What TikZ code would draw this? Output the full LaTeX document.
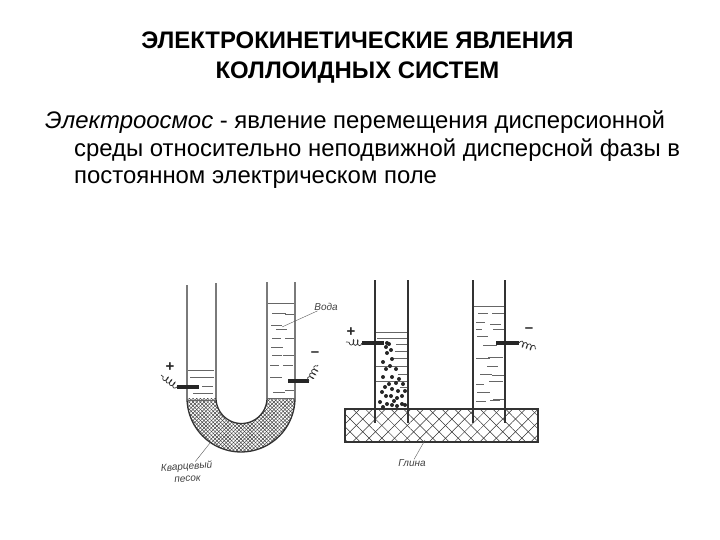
\documentclass[tikz,border=0pt]{standalone}
\usepackage{fontspec}
\setmainfont{Liberation Sans}
\usetikzlibrary{patterns.meta}
\usetikzlibrary{decorations.pathmorphing}
\tikzset{
	wall/.style={line width=1.3pt,draw=black!80},
	surface/.style={line width=.5pt,draw=black!60},
	electrode/.style={line width=3.4pt,draw=black!85},
	coilwire/.style={line width=.7pt,draw=black!80,decorate,decoration={coil,aspect=.45,segment length=4.2pt,amplitude=2.8pt}},
	leader/.style={line width=.4pt,draw=black!65},
	hand/.style={font=\itshape\fontsize{10}{12}\selectfont,text=black!75,inner sep=0pt,align=center},
	sign/.style={font=\bfseries\fontsize{15}{15}\selectfont,text=black!85,inner sep=0pt}
}
\begin{document}
\begin{tikzpicture}[x=1pt,y=-1pt]
		\useasboundingbox (0,0) rectangle (720,540);

		\begin{scope}[every node/.style={inner sep=0pt,anchor=base west,font=\fontsize{23.9}{24}\selectfont}]
			\node[font=\bfseries\fontsize{23.9}{24}\selectfont,anchor=base] (title1) at (357.5,49) {ЭЛЕКТРОКИНЕТИЧЕСКИЕ ЯВЛЕНИЯ};
			\node[font=\bfseries\fontsize{23.9}{24}\selectfont,anchor=base] (title2) at (357.5,79) {КОЛЛОИДНЫХ СИСТЕМ};
			\node (line1) at (45,129) {\textit{Электроосмос} - явление перемещения дисперсионной};
			\node (line2) at (74,157) {среды относительно неподвижной дисперсной фазы в};
			\node (line3) at (74,184) {постоянном электрическом поле};
		\end{scope}

		%% U tube
		\fill[pattern={Lines[angle=45,distance=2.6pt,line width=.5pt]},pattern color=black!75]
			(187,398) -- plot[domain=180:0,samples=50] ({241+54*cos(\x)},{398+54*sin(\x)})
			-- plot[domain=0:180,samples=40] ({241.5+25.5*cos(\x)},{398+25.5*sin(\x)}) -- cycle;
		\fill[pattern={Lines[angle=-45,distance=2.6pt,line width=.5pt]},pattern color=black!75]
			(187,398) -- plot[domain=180:0,samples=50] ({241+54*cos(\x)},{398+54*sin(\x)})
			-- plot[domain=0:180,samples=40] ({241.5+25.5*cos(\x)},{398+25.5*sin(\x)}) -- cycle;
		\draw[wall] (187,285) -- (187,398) -- plot[domain=180:0,samples=50] ({241+54*cos(\x)},{398+54*sin(\x)}) -- (295,282);
		\draw[wall] (216,283) -- (216,398) -- plot[domain=180:0,samples=40] ({241.5+25.5*cos(\x)},{398+25.5*sin(\x)}) -- (267,282);
		\draw[surface] (187,400) -- (216,400);
		\draw[surface] (267,398) -- (295,398);

		\foreach \a/\b/\y in {188/214/370, 190/214/377, 202/213/386, 193/213/393,
			268/294/303, 272/286/313, 285/294/314, 271/282/325, 276/287/329, 272/281/338, 285/294/338,
			271/283/347, 283/294/355, 272/282/355, 270/279/365, 283/293/365, 270/282/377, 273/285/392, 285/294/390}
			\draw[surface] (\a,\y) -- (\b,\y);

		\draw[electrode] (177,387) -- (199,387);
		\draw[electrode] (288,381) -- (309,381);
		\coordinate (wireA) at (161,375);
		\coordinate (wireB) at (318,365);
		\draw[coilwire] (177,387) -- (wireA);
		\draw[coilwire] (309,381) -- (wireB);
		\node[sign] (plusA) at (170,367) {+};
		\node[sign] (minusA) at (315,354) {–};

		\node[hand] (voda) at (326,307) {Вода};
		\coordinate (vodaEnd) at (282,327);
		\draw[leader] (voda) -- (vodaEnd);
		\node[hand,rotate=4] (pesok) at (187,472) {Кварцевый\\песок};
		\coordinate (pesokEnd) at (210,443);
		\draw[leader] (pesok) -- (pesokEnd);

		%% clay block
		\fill[pattern={Lines[angle=45,distance=9pt,line width=.5pt]},pattern color=black!80] (345,408) rectangle (538,442);
		\fill[pattern={Lines[angle=-45,distance=9pt,line width=.5pt]},pattern color=black!80] (345,408) rectangle (538,442);
		\draw[line width=1.3pt,draw=black!80] (345,409) rectangle (538,442);

		\foreach \x in {375,408,473,505}
			\draw[wall] (\x,280) -- (\x,423);

		\foreach \a/\b/\y in {376/407/332, 377/407/338, 396/407/344, 395/407/351, 393/407/358, 376/407/366, 398/407/374, 376/407/381, 400/407/387,
			474/504/306, 478/488/313, 492/504/313, 476/485/322, 490/501/324, 476/482/329, 493/504/329, 477/488/336, 483/497/345,
			488/503/357, 476/490/358, 487/498/366, 480/492/374, 492/504/375, 476/484/384, 489/503/381, 477/490/392, 493/504/399, 476/486/401, 490/500/400}
			\draw[surface] (\a,\y) -- (\b,\y);

		\foreach \x/\y in {387/343,389/344,386/347,391/350,387/353,392/359,383/362,390/366,386/369,396/369,
			383/377,392/377,399/379,389/384,396/383,403/384,385/387,392/389,398/391,405/391,382/392,
			386/396,391/396,397/398,402/396,394/401,380/402,387/404,392/405,397/406,402/404,405/405,383/407}
			\fill[black!85] (\x,\y) circle (2pt);

		\draw[electrode] (362,343) -- (384,343);
		\draw[electrode] (496,343) -- (519,343);
		\coordinate (wireC) at (346,342);
		\coordinate (wireD) at (536,349);
		\draw[coilwire] (362,343) -- (wireC);
		\draw[coilwire] (519,343) -- (wireD);
		\node[sign] (plusB) at (351,332) {+};
		\node[sign] (minusB) at (529,330) {–};

		\node[hand] (glina) at (412,463) {Глина};
		\coordinate (glinaEnd) at (425,440);
		\draw[leader] (glina) -- (glinaEnd);
\end{tikzpicture}
\end{document}
